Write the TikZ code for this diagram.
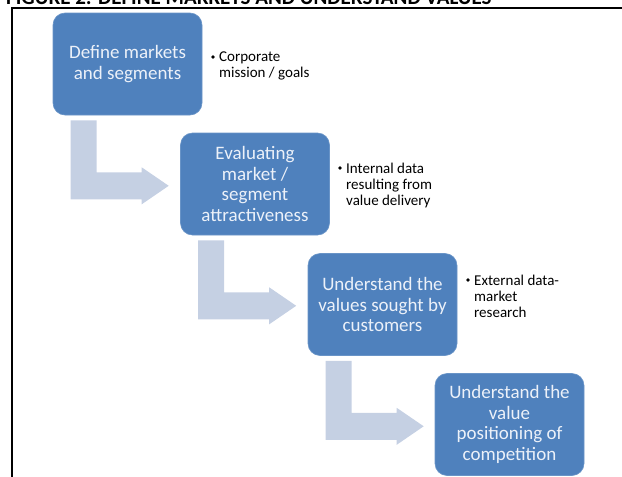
\documentclass[tikz,border=0pt]{standalone}
\usepackage{fontspec}
\setmainfont{Carlito}
\usetikzlibrary{calc}
\definecolor{boxblue}{RGB}{79,129,189}
\definecolor{arrowblue}{RGB}{197,208,227}
\definecolor{boxtext}{RGB}{236,241,249}
\begin{document}
\begin{tikzpicture}[x=1pt,y=-1pt,
  stepbox/.style={rectangle,rounded corners=12pt,fill=boxblue,draw=boxblue!85!white,line width=0.6pt,
    minimum width=149pt,minimum height=102pt,align=center,text=boxtext,
    font=\fontsize{19}{20.7}\selectfont,inner sep=2pt},
  note/.style={anchor=north west,align=left,inner sep=0pt,font=\fontsize{15}{16}\selectfont},
  bulletdot/.style={circle,fill=black,inner sep=0pt,minimum size=3.6pt},
  bentarrow/.style={fill=arrowblue,draw=none}]
\useasboundingbox (0,0) rectangle (622,477);
\clip (0,0) rectangle (622,477);
% title (cut off at the top)
\node[anchor=base west,inner sep=0pt,font=\bfseries\fontsize{21}{24}\selectfont] (title) at (6,4.5) {FIGURE 2: DEFINE MARKETS AND UNDERSTAND VALUES};
% frame lines
\coordinate (fl) at (12,480);
\coordinate (fc) at (12,8);
\coordinate (fr) at (625,8);
\draw[line width=2pt] (fl) -- (fc) -- (fr);
% boxes
\node[stepbox] (b1) at (127.5,64) {Define markets\\and segments};
\node[stepbox] (b2) at (255,184) {Evaluating\\market /\\segment\\attractiveness};
\node[stepbox] (b3) at (382.5,304.5) {Understand the\\values sought by\\customers};
\node[stepbox] (b4) at (509.5,424.5) {Understand the\\value\\positioning of\\competition};
% bent arrows
\foreach \b in {b1,b2,b3}{
  \fill[bentarrow] ($(\b.south west)+(18,5)$) -- ($(\b.south west)+(44,5)$) -- ($(\b.south west)+(44,57)$)
    -- ($(\b.south west)+(89,57)$) -- ($(\b.south west)+(89,52)$) -- ($(\b.south west)+(116,70.5)$)
    -- ($(\b.south west)+(89,89)$) -- ($(\b.south west)+(89,84)$) -- ($(\b.south west)+(18,84)$) -- cycle;
}
% notes
\node[bulletdot] (d1) at (213,57) {};
\node[note] (n1) at (219,51.5) {Corporate\\mission / goals};
\node[bulletdot] (d2) at (340,168) {};
\node[note] (n2) at (346,162.5) {Internal data\\resulting from\\value delivery};
\node[bulletdot] (d3) at (468,280) {};
\node[note] (n3) at (474,274.5) {External data-\\market\\research};
\end{tikzpicture}
\end{document}
